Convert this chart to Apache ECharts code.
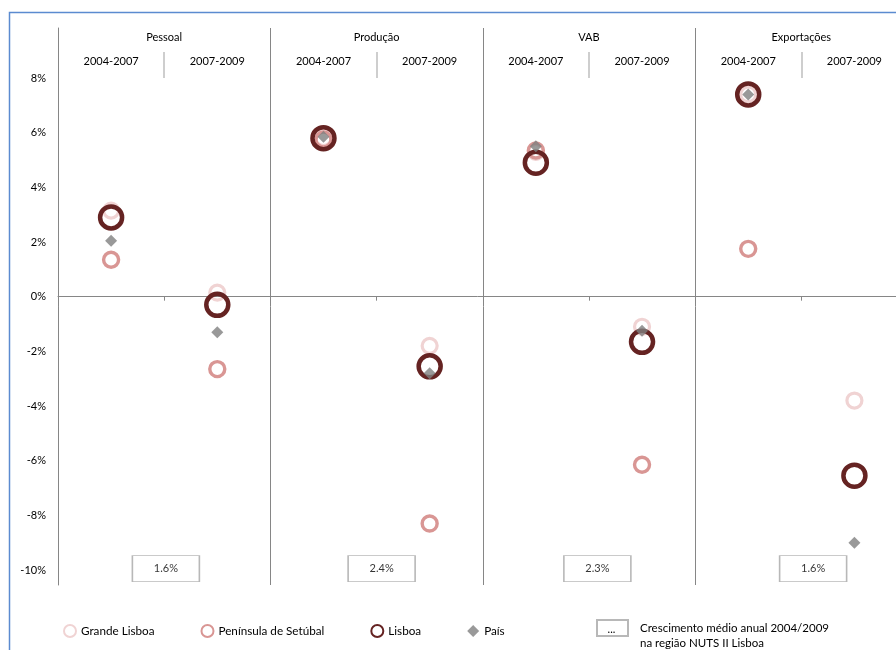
<!DOCTYPE html>
<html><head><meta charset="utf-8">
<script src="https://cdn.jsdelivr.net/npm/echarts@6/dist/echarts.min.js"></script>
<style>html,body{margin:0;padding:0;background:#fff}#c{width:896px;height:650px}</style>
</head><body><div id="c"></div>
<script>
var panels = ['Pessoal', 'Produção', 'VAB', 'Exportações'];
var periods = ['2004-2007', '2007-2009', '2004-2007', '2007-2009', '2004-2007', '2007-2009', '2004-2007', '2007-2009'];
var yTicks = [-10, -8, -6, -4, -2, 0, 2, 4, 6, 8];
var grandeLisboa = [3.15, 0.15, 5.8, -1.8, 5.3, -1.1, 7.4, -3.8];
var setubal = [1.35, -2.65, 5.75, -8.3, 5.35, -6.15, 1.75, null];
var lisboa = [2.9, -0.3, 5.8, -2.55, 4.9, -1.65, 7.4, -6.55];
var pais = [2.05, -1.3, 5.85, -2.8, 5.5, -1.25, 7.4, -9.0];
var mediaNuts = [1.6, 2.4, 2.3, 1.6];
var boxName = 'Crescimento médio anual 2004/2009\nna região NUTS II Lisboa';

var FONT = 'Lato';
var BOX_Y = -9.95;
var Y_MIN = -10.549, Y_MAX = 9.829;
var chart = echarts.init(document.getElementById('c'), null, {renderer: 'canvas'});
function ring(name, data, color, size, bw) {
  return {
    name: name, type: 'scatter', xAxisIndex: 0, yAxisIndex: 0, data: data,
    symbol: 'circle', symbolSize: size,
    itemStyle: {color: 'rgba(255,255,255,0)', borderColor: color, borderWidth: bw, opacity: 1},
    emphasis: {disabled: true}, silent: true
  };
}
var option = {
  animation: false,
  textStyle: {fontFamily: FONT},
  graphic: [
    {type: 'rect', shape: {x: 9.5, y: 12.5, width: 1000, height: 1000}, style: {fill: 'none', stroke: '#5b8bd0', lineWidth: 1.5}, silent: true},
    {type: 'text', x: 611.5, y: 629, style: {text: '...', fill: '#000', font: '11px ' + FONT, align: 'center', verticalAlign: 'middle'}, silent: true, z: 100}
  ],
  grid: [
    {left: 58, top: 28, width: 849.5, height: 557, containLabel: false, outerBoundsMode: 'none'},
    {left: 58, top: 28, width: 863, height: 557, containLabel: false, outerBoundsMode: 'none'}
  ],
  legend: [
    {
      data: ['Grande Lisboa', 'Península de Setúbal', 'Lisboa', 'País'],
      left: 63, top: 624, padding: 0, itemWidth: 12, itemHeight: 12, itemGap: 46,
      textStyle: {fontFamily: FONT, fontSize: 11.7, color: '#000'}, selectedMode: false
    },
    {
      data: [boxName], left: 596, top: 605.5, padding: 0, itemWidth: 31, itemHeight: 16, itemGap: 10,
      formatter: function (n) { return '\n' + n; },
      textStyle: {fontFamily: FONT, fontSize: 11.5, color: '#000', lineHeight: 15, padding: [0, 0, 0, 7]}, selectedMode: false
    }
  ],
  xAxis: [
    {
      type: 'category', data: periods, position: 'bottom', boundaryGap: true, gridIndex: 0,
      axisLine: {onZero: true, lineStyle: {color: '#868686', width: 1}},
      axisTick: {show: true, length: 4, interval: 0, lineStyle: {color: '#868686'}},
      axisLabel: {show: false},
      splitLine: {show: true, interval: function (i) { return i % 2 === 0; }, lineStyle: {color: '#868686', width: 1}}
    },
    {
      type: 'category', data: periods, position: 'top', offset: -24, boundaryGap: true, gridIndex: 0,
      axisLine: {show: false},
      axisTick: {show: true, inside: true, length: 26, interval: function (i) { return i % 2 === 1; }, lineStyle: {color: '#bfbfbf', width: 1.5}},
      axisLabel: {show: true, inside: true, margin: 4, interval: 0, fontFamily: FONT, fontSize: 11, color: '#000'},
      splitLine: {show: false}
    },
    {
      type: 'category', data: panels, position: 'top', offset: 0, boundaryGap: true, gridIndex: 0,
      axisLine: {show: false}, axisTick: {show: false},
      axisLabel: {show: true, inside: true, margin: 4, interval: 0, fontFamily: FONT, fontSize: 11, color: '#000'},
      splitLine: {show: false}
    },
    {
      type: 'category', data: panels, boundaryGap: true, gridIndex: 1, show: false
    }
  ],
  yAxis: [
    {
      type: 'value', min: Y_MIN, max: Y_MAX, gridIndex: 0,
      axisLine: {show: true, lineStyle: {color: '#868686'}},
      axisTick: {show: false},
      splitLine: {show: false},
      axisLabel: {
        customValues: yTicks, margin: 12, fontFamily: FONT, fontSize: 11, color: '#000',
        formatter: function (v) { return Math.round(v) + '%'; }
      }
    },
    {type: 'value', min: Y_MIN, max: Y_MAX, gridIndex: 1, show: false, splitLine: {show: false}}
  ],
  series: [
    ring('Grande Lisboa', grandeLisboa, '#f0d3d3', 15, 3.2),
    ring('Península de Setúbal', setubal, '#d99694', 15, 3.4),
    ring('Lisboa', lisboa, '#652322', 22, 4.5),
    {
      name: 'País', type: 'scatter', data: pais, symbol: 'diamond', symbolSize: 12,
      itemStyle: {color: '#7f7f7f'}, silent: true
    },
    {
      name: boxName, type: 'scatter', xAxisIndex: 3, yAxisIndex: 1,
      data: mediaNuts.map(function (v, i) { return {value: [panels[i], BOX_Y], nuts: v}; }),
      symbol: 'rect', symbolSize: [67, 26],
      itemStyle: {color: '#fff', borderColor: '#a6a6a6', borderWidth: 1},
      label: {show: true, position: 'inside', fontFamily: FONT, fontSize: 11, color: '#000',
        formatter: function (p) { return p.data.nuts.toFixed(1) + '%'; }},
      silent: true, z: 1
    }
  ]
};
chart.setOption(option);
</script></body></html>
